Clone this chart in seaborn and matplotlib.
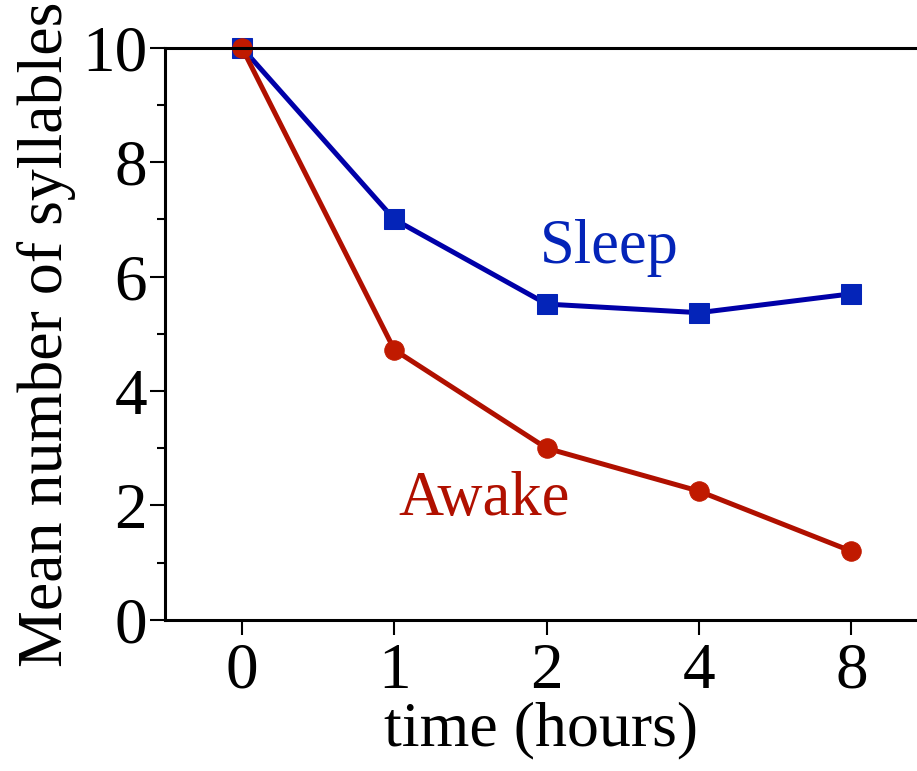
import numpy as np
import pandas as pd
import matplotlib
matplotlib.use("Agg")
import matplotlib.pyplot as plt
import seaborn as sns
from matplotlib.ticker import MultipleLocator

hours = ["0", "1", "2", "4", "8"]
sleep = [10.0, 7.0, 5.52, 5.37, 5.7]
awake = [10.0, 4.72, 3.0, 2.25, 1.2]

df = pd.DataFrame({
    "pos": list(range(len(hours))) * 2,
    "value": sleep + awake,
    "group": ["Sleep"] * len(hours) + ["Awake"] * len(hours),
})

sns.set_style("ticks", {"text.color": "black", "axes.labelcolor": "black",
                        "xtick.color": "black", "ytick.color": "black",
                        "axes.edgecolor": "black"})
plt.rcParams["font.family"] = ["Liberation Serif", "DejaVu Serif"]

blue_line = "#0000a8"
blue_mark = "#0424b8"
red_line = "#b01000"
red_mark = "#c01a00"

fig = plt.figure(figsize=(9.17, 7.71), dpi=100)
ax = fig.add_axes([0.18, 0.196, 0.82, 0.742])

sns.lineplot(data=df[df.group == "Sleep"], x="pos", y="value", ax=ax,
             color=blue_line, lw=3.6, marker="s", markersize=14,
             markerfacecolor=blue_mark, markeredgecolor=blue_mark, clip_on=False)
sns.lineplot(data=df[df.group == "Awake"], x="pos", y="value", ax=ax,
             color=red_line, lw=3.6, marker="o", markersize=14,
             markerfacecolor=red_mark, markeredgecolor=red_mark, clip_on=False)

ax.set_xlim(-0.505, 4.43)
ax.set_ylim(0, 10)
ax.set_xticks(range(len(hours)))
ax.set_xticklabels(hours)
ax.yaxis.set_major_locator(MultipleLocator(2))
ax.yaxis.set_minor_locator(MultipleLocator(1))
ax.tick_params(axis="both", which="major", direction="out", width=1.5,
               labelsize=47, colors="black")
ax.tick_params(axis="y", which="major", length=11, pad=2)
ax.tick_params(axis="y", which="minor", length=6, width=1.5, colors="black")
ax.tick_params(axis="x", which="major", length=11, pad=5)

for side in ["left", "bottom", "top"]:
    ax.spines[side].set_linewidth(2.2)
    ax.spines[side].set_color("black")
ax.spines["right"].set_visible(False)

ax.set_xlabel("time (hours)", fontsize=46, labelpad=0, color="black")
ax.set_ylabel("Mean number of syllables", fontsize=46, labelpad=4, color="black")

ax.text(2.41, 6.5, "Sleep", color=blue_mark, fontsize=45, ha="center", va="center")
ax.text(1.59, 2.1, "Awake", color=red_line, fontsize=45, ha="center", va="center")

fig.savefig("out.png", dpi=100)
